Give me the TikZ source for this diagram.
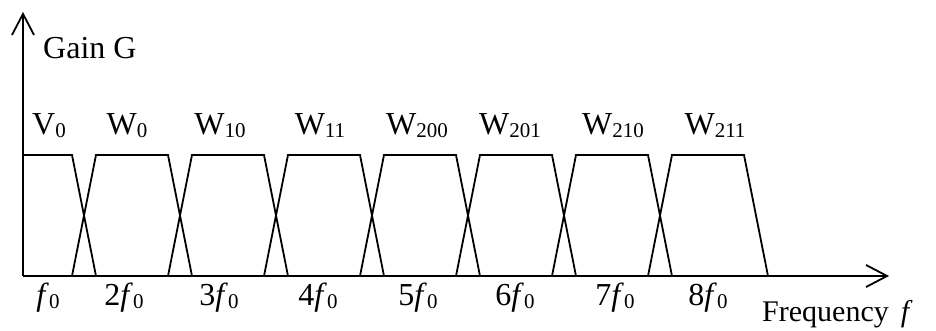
\documentclass[tikz,border=0pt]{standalone}
\usepackage{fontspec}
\setmainfont{Liberation Serif}
\usetikzlibrary{arrows.meta}
\newcommand\lsub[1]{\raisebox{-3pt}{\fontsize{21}{21}\selectfont #1}}
\begin{document}
\begin{tikzpicture}[x=1pt,y=-1pt,
  ln/.style={line width=1.8pt,line join=miter},
  axis/.style={ln,-{Straight Barb[length=21pt,width=22pt,line width=1.8pt]}},
  lbl/.style={inner sep=0pt,anchor=base,font=\fontsize{32}{32}\selectfont}]
\useasboundingbox (0,0) rectangle (936,331);
\coordinate (O) at (23,276);
\coordinate (ytip) at (23,12);
\coordinate (xtip) at (889,276);
\draw[axis] (O) -- (ytip);
\draw[axis] (O) -- (xtip);
% V0 band
\draw[ln] (23,155) -- (72,155) -- (96,276);
% W bands
\foreach \k in {0,...,6}{
  \pgfmathsetmacro{\a}{72+96*\k}
  \draw[ln] (\a,276) -- (\a+24,155) -- (\a+96,155) -- (\a+120,276);
}
\node[lbl,anchor=base west] (gain) at (43,59) {Gain G};
\node[lbl,anchor=base west,font=\fontsize{30}{30}\selectfont] (freq) at (762,321) {Frequency\hspace{0.4em}\textit{f}};
% band labels
\node[lbl] (v0) at (49,135) {V\lsub{0}};
\node[lbl] (w0) at (127,135) {W\lsub{0}};
\node[lbl] (w10) at (220,135) {W\lsub{10}};
\node[lbl] (w11) at (320,135) {W\lsub{11}};
\node[lbl] (w200) at (417,135) {W\lsub{200}};
\node[lbl] (w201) at (510,135) {W\lsub{201}};
\node[lbl] (w210) at (613,135) {W\lsub{210}};
\node[lbl] (w211) at (715,135) {W\lsub{211}};
% frequency labels
\node[lbl] (f1) at (48,305) {\textit{f}\lsub{0}};
\node[lbl] (f2) at (124,305) {2\textit{f}\lsub{0}};
\node[lbl] (f3) at (219,305) {3\textit{f}\lsub{0}};
\node[lbl] (f4) at (318,305) {4\textit{f}\lsub{0}};
\node[lbl] (f5) at (418,305) {5\textit{f}\lsub{0}};
\node[lbl] (f6) at (515,305) {6\textit{f}\lsub{0}};
\node[lbl] (f7) at (615,305) {7\textit{f}\lsub{0}};
\node[lbl] (f8) at (708,305) {8\textit{f}\lsub{0}};
\end{tikzpicture}
\end{document}
